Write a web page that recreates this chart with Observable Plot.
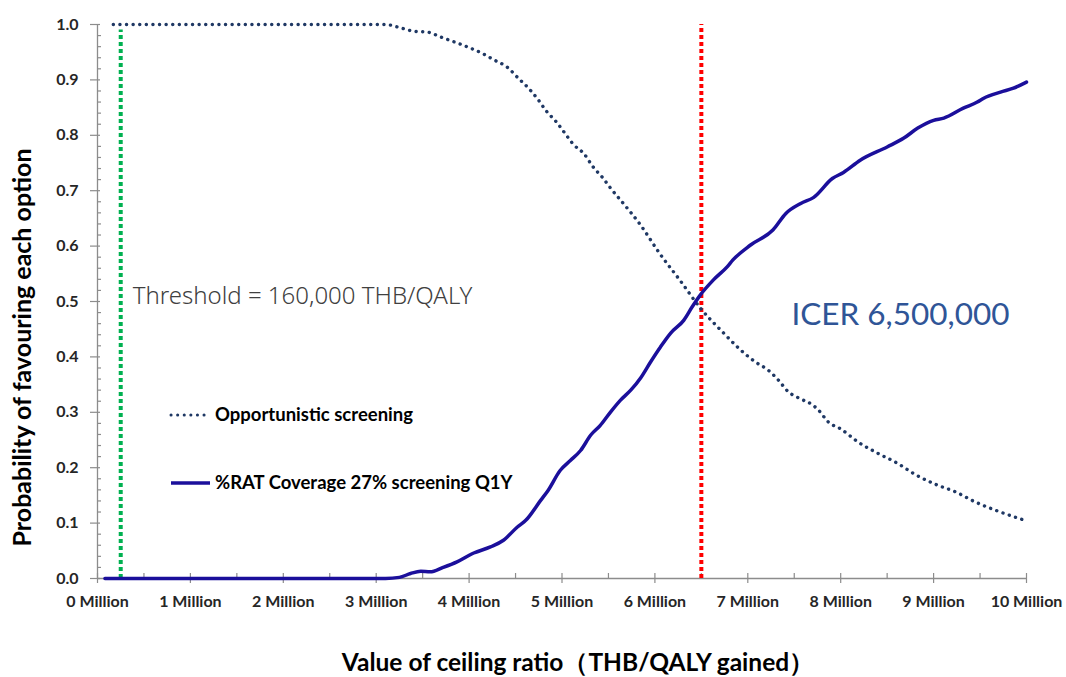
<!DOCTYPE html>
<html>
<head>
<meta charset="utf-8">
<script src="https://cdn.jsdelivr.net/npm/d3@7"></script>
<script src="https://cdn.jsdelivr.net/npm/@observablehq/plot@0.6"></script>
<style>
  html, body { margin: 0; padding: 0; background: #fff; }
  #wrap { position: relative; width: 1066px; height: 677px; }
  #legend { position: absolute; left: 0; top: 0; width: 1066px; height: 677px; pointer-events: none; }
</style>
</head>
<body>
<div id="wrap"></div>
<script>
// ---- Data (x in millions of THB/QALY) ----
const oppX = [0.17, 3.1, 3.24, 3.40, 3.56, 3.70, 3.85, 3.99, 4.14, 4.27, 4.41, 4.53, 4.64, 4.74, 4.83, 4.94, 5.03, 5.12, 5.24, 5.33, 5.44, 5.53, 5.63, 5.85, 6.05, 6.28, 6.49, 6.74, 6.90, 7.08, 7.22, 7.33, 7.43, 7.57, 7.70, 7.76, 7.87, 8.00, 8.19, 8.40, 8.61, 8.81, 9.02, 9.24, 9.45, 9.67, 10.0];
const oppY = [1.0, 1.0, 0.995, 0.988, 0.986, 0.977, 0.968, 0.959, 0.948, 0.936, 0.923, 0.903, 0.885, 0.865, 0.844, 0.824, 0.804, 0.784, 0.766, 0.744, 0.723, 0.703, 0.683, 0.637, 0.587, 0.536, 0.488, 0.443, 0.416, 0.391, 0.376, 0.358, 0.338, 0.324, 0.313, 0.304, 0.282, 0.270, 0.246, 0.226, 0.208, 0.187, 0.170, 0.156, 0.138, 0.123, 0.104];

const ratX = [0.08, 3.10, 3.25, 3.37, 3.48, 3.58, 3.72, 3.87, 4.05, 4.23, 4.37, 4.52, 4.61, 4.77, 4.85, 4.98, 5.09, 5.20, 5.31, 5.41, 5.52, 5.63, 5.74, 5.85, 5.95, 6.06, 6.17, 6.31, 6.40, 6.49, 6.63, 6.78, 6.84, 7.03, 7.27, 7.41, 7.57, 7.71, 7.91, 8.03, 8.21, 8.50, 8.68, 8.83, 9.00, 9.11, 9.32, 9.47, 9.54, 9.72, 9.86, 10.0];
const ratY = [0.0, 0.0, 0.002, 0.009, 0.013, 0.012, 0.020, 0.030, 0.046, 0.057, 0.069, 0.093, 0.105, 0.141, 0.159, 0.195, 0.213, 0.231, 0.259, 0.276, 0.300, 0.322, 0.340, 0.363, 0.390, 0.418, 0.443, 0.466, 0.490, 0.512, 0.539, 0.563, 0.575, 0.602, 0.629, 0.659, 0.677, 0.688, 0.722, 0.733, 0.755, 0.779, 0.795, 0.813, 0.827, 0.831, 0.849, 0.860, 0.867, 0.878, 0.885, 0.896];

const seriesNames = ["Opportunistic screening", "%RAT Coverage 27% screening Q1Y"];
const thresholdX = [0.25];
const icerX = [6.5];
const thresholdLabel = "Threshold = 160,000 THB/QALY";
const icerLabel = "ICER 6,500,000";

const xMajor = [0, 1, 2, 3, 4, 5, 6, 7, 8, 9, 10];
const xMajorLabels = ["0 Million", "1 Million", "2 Million", "3 Million", "4 Million", "5 Million", "6 Million", "7 Million", "8 Million", "9 Million", "10 Million"];
const xMinor = [0.5, 1.5, 2.5, 3.5, 4.5, 5.5, 6.5, 7.5, 8.5, 9.5];
const yMajor = [0, 0.1, 0.2, 0.3, 0.4, 0.5, 0.6, 0.7, 0.8, 0.9, 1.0];
const yMajorLabels = ["0.0", "0.1", "0.2", "0.3", "0.4", "0.5", "0.6", "0.7", "0.8", "0.9", "1.0"];
const yMinor = d3.range(0, 50).map(i => i * 0.02).filter(v => Math.abs(v * 10 - Math.round(v * 10)) > 1e-6).map(v => +v.toFixed(2));

const xTitle = "Value of ceiling ratio（THB/QALY gained）";
const yTitle = "Probability of favouring each option";

const opp = oppX.map((x, i) => ({x, y: oppY[i]}));
const rat = ratX.map((x, i) => ({x, y: ratY[i]}));

const axisColor = "#8c8c8c";
const font = "Lato, 'Open Sans', sans-serif";

const chart = Plot.plot({
  width: 1066,
  height: 677,
  marginLeft: 97,
  marginRight: 40,
  marginTop: 24,
  marginBottom: 99,
  style: {fontFamily: font, background: "white", overflow: "visible"},
  x: {domain: [0, 10], axis: null},
  y: {domain: [0, 1], axis: null},
  marks: [
    // axis lines
    Plot.ruleX([0], {y1: 0, y2: 1, stroke: axisColor, strokeWidth: 1.3}),
    Plot.ruleY([0], {x1: 0, x2: 10, stroke: axisColor, strokeWidth: 1.3}),
    // y ticks
    Plot.axisY({ticks: yMajor, tickSize: 10, dx: 3, label: null, tickFormat: () => "", stroke: axisColor, strokeWidth: 1.2}),
    Plot.axisY({ticks: yMinor, tickSize: 4, dx: 4, label: null, tickFormat: () => "", stroke: axisColor, strokeWidth: 1.2}),
    Plot.axisY({ticks: yMajor, tickSize: 0, tickPadding: 19, label: null, tickFormat: (d, i) => yMajorLabels[i], fontSize: 16, fontWeight: "bold", fill: "#262626"}),
    // x ticks
    Plot.axisX({ticks: xMajor, tickSize: 10, dy: -5, label: null, tickFormat: () => "", stroke: axisColor, strokeWidth: 1.2}),
    Plot.axisX({ticks: xMinor, tickSize: 5, dy: -5, label: null, tickFormat: () => "", stroke: axisColor, strokeWidth: 1.2}),
    Plot.axisX({ticks: xMajor, tickSize: 0, tickPadding: 17, label: null, tickFormat: (d, i) => xMajorLabels[i], fontSize: 16, fontWeight: "bold", fill: "#262626"}),
    // reference lines
    Plot.ruleX(thresholdX, {x: d => d, y1: 0, y2: 0.99, stroke: "#00B050", strokeWidth: 4, strokeDasharray: "4,3"}),
    Plot.ruleX(icerX, {x: d => d, y1: 0, y2: 1, stroke: "#FF0000", strokeWidth: 4, strokeDasharray: "4,3"}),
    // series
    Plot.line(opp, {x: "x", y: "y", stroke: "#1F3864", strokeWidth: 3.4, strokeDasharray: "0.1,6.5", strokeLinecap: "round", curve: "monotone-x"}),
    Plot.line(rat, {x: "x", y: "y", stroke: "#1B0F9B", strokeWidth: 3.5, curve: "monotone-x"}),
    // annotations
    Plot.text([thresholdLabel], {x: thresholdX[0], y: 0.51, dx: 12, text: d => d, textAnchor: "start", fontSize: 24, fill: "#404040", fontFamily: "'Noto Sans', sans-serif", fontWeight: 300}),
    Plot.text([icerLabel], {x: 10, y: 0.475, dx: -17, text: d => d, textAnchor: "end", fontSize: 31.5, fill: "#2F5597"}),
    // axis titles
    Plot.text([xTitle], {frameAnchor: "bottom", textAnchor: "middle", lineAnchor: "middle", dy: 85, dx: 16, text: d => d, fontSize: 24.5, fontWeight: "bold", fill: "#000"}),
    Plot.text([yTitle], {frameAnchor: "left", textAnchor: "middle", lineAnchor: "middle", dx: -75, dy: 46, rotate: -90, text: d => d, fontSize: 25, fontWeight: "bold", fill: "#000"})
  ]
});

document.getElementById("wrap").appendChild(chart);

// Legend overlay (inside plot area)
const ns = "http://www.w3.org/2000/svg";
const leg = document.createElementNS(ns, "svg");
leg.setAttribute("id", "legend");
leg.setAttribute("width", 1066);
leg.setAttribute("height", 677);
const legendItems = [
  {name: seriesNames[0], stroke: "#1F3864", width: 3, dash: "0.1,6.5", cap: "round", y: 415},
  {name: seriesNames[1], stroke: "#1B0F9B", width: 3.5, dash: null, cap: "butt", y: 483}
];
legendItems.forEach(it => {
  const l = document.createElementNS(ns, "line");
  l.setAttribute("x1", 171); l.setAttribute("x2", 210);
  l.setAttribute("y1", it.y); l.setAttribute("y2", it.y);
  l.setAttribute("stroke", it.stroke); l.setAttribute("stroke-width", it.width);
  l.setAttribute("stroke-linecap", it.cap);
  if (it.dash) l.setAttribute("stroke-dasharray", it.dash);
  leg.appendChild(l);
  const t = document.createElementNS(ns, "text");
  t.setAttribute("x", 215); t.setAttribute("y", it.y);
  t.setAttribute("dy", "0.35em");
  t.setAttribute("font-family", font);
  t.setAttribute("font-size", 18.5);
  t.setAttribute("font-weight", "bold");
  t.setAttribute("fill", "#000");
  t.textContent = it.name;
  leg.appendChild(t);
});
document.getElementById("wrap").appendChild(leg);
</script>
</body>
</html>
